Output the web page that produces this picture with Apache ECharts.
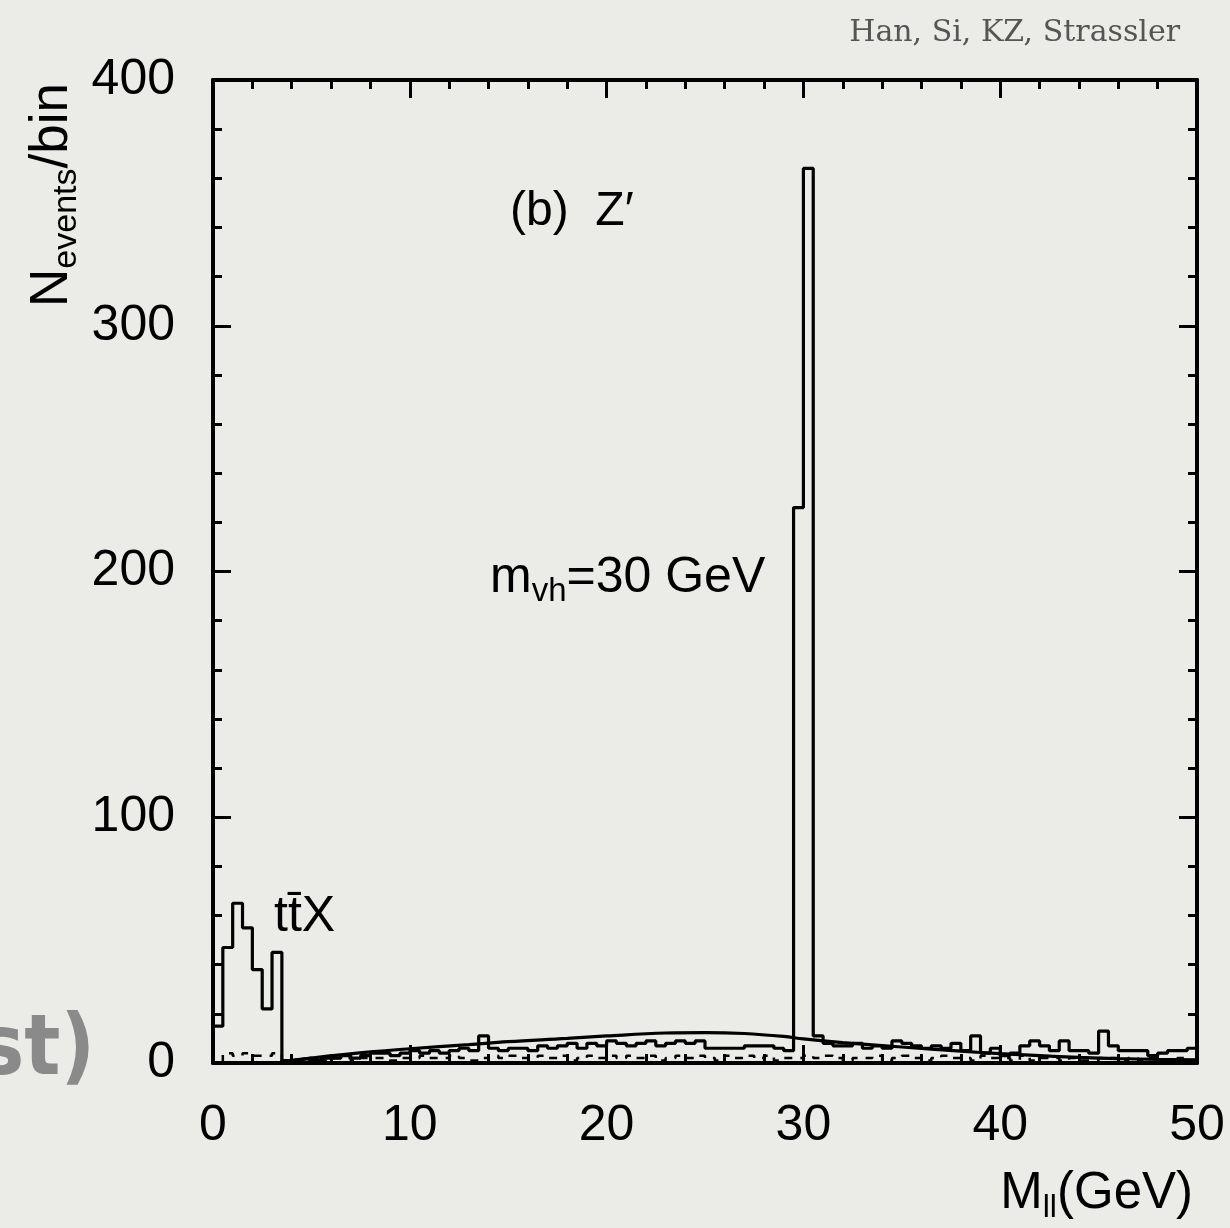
<!DOCTYPE html>
<html>
<head>
<meta charset="utf-8">
<script src="https://cdn.jsdelivr.net/npm/echarts@6/dist/echarts.min.js"></script>
<style>
    html, body { margin: 0; padding: 0; background: #ebebe7; }
    #chart { width: 1230px; height: 1228px; }
</style>
</head>
<body>
<div id="chart"></div>
<script>
// bin width in GeV
const binWidth = 0.5;

// ttX background, bins from 0 GeV
const ttxStart = 0;
const ttxValues = [15, 47, 65, 55, 38, 22, 45];

// Z' signal histogram, bins from 3.5 GeV
const signalStart = 3.5;
const signalValues = [
    1, 1.5, 2, 1, 2, 2, 3, 2, 3, 4, 4, 3, 4,
    5, 4, 5, 4, 5, 6, 5, 11, 6, 5, 6, 6, 5, 7, 6, 7, 8, 6, 8, 7,
    9, 8, 7, 8, 9, 7, 8, 9, 8, 9, 6, 6, 6, 6, 7, 7, 7, 6, 5, 226,
    364, 11, 8, 7, 7, 8, 6, 7, 6, 9, 8, 7, 6, 7, 6, 8, 5, 11, 4, 6,
    3, 4, 7, 9, 7, 5, 9, 5, 5, 4, 13, 7, 5, 5, 5, 3, 4, 5, 5, 6
];

// low dashed background, bins from 0.5 GeV
const dashStart = 0.5;
const dashValues = [
    4, 3, 4, 3, 3, 4,
    1, 1, 1, 2, 1, 2, 2, 1, 2, 2, 2, 1, 2,
    2, 3, 2, 2, 3, 2, 1, 2, 3, 2, 3, 2, 2, 3, 2, 3, 1, 2, 3, 2,
    3, 2, 3, 2, 3, 1, 2, 3, 2, 3, 2, 1, 3, 2, 3, 2, 3, 1, 2, 2,
    3, 2, 3, 2, 1, 2, 2, 3, 1, 2, 3, 2, 1, 2, 3, 2, 2, 1, 3, 2,
    2, 1, 3, 1, 2, 2, 1, 2, 1, 1, 2, 2, 1, 2, 1, 2, 1, 1, 2, 1
];

// smooth background curve
const curveX = [3.5, 5, 8, 10, 13, 15, 18, 20, 23, 25, 27, 29, 30, 32, 35, 38, 40, 42, 44, 46, 48, 50];
const curveY = [0.5, 2, 4.5, 5.8, 7.5, 8.7, 10, 11, 12.2, 12.4, 12, 10.8, 9.8, 8.3, 6.5, 4.8, 3.8, 3, 2.3, 1.8, 1.5, 1.3];

// axes
const xMin = 0, xMax = 50, xStep = 10;
const yMin = 0, yMax = 400, yStep = 100;

const histPoints = (start, values) => {
    const pts = [[start, 0]];
    values.forEach((v, i) => pts.push([start + i * binWidth, v]));
    pts.push([start + values.length * binWidth, 0]);
    return pts;
};

const txtFont = "'Liberation Sans', Arial, sans-serif";

const axisCommon = (showLabel) => ({
    axisLine: { show: true, onZero: false, lineStyle: { color: '#000', width: 4 } },
    axisTick: { show: true, inside: true, length: 18, lineStyle: { color: '#000', width: 3 } },
    minorTick: { show: true, splitNumber: 5, length: 9, lineStyle: { color: '#000', width: 3 } },
    splitLine: { show: false },
    axisLabel: {
        show: showLabel,
        color: '#000',
        fontSize: 50,
        fontFamily: txtFont,
        margin: 38
    }
});

const histSeries = (name, data, dashed) => ({
    name: name,
    type: 'line',
    step: 'end',
    data: data,
    showSymbol: false,
    symbol: 'none',
    silent: true,
    lineStyle: { color: '#000', width: dashed ? 2.5 : 3.2, type: dashed ? [8, 8] : 'solid' },
    z: 3
});

const getOptions = () => ({
    backgroundColor: '#ebebe7',
    animation: false,
    grid: { left: 213, right: 33, top: 80, bottom: 165, containLabel: false },
    xAxis: [
        Object.assign({ type: 'value', position: 'bottom', min: xMin, max: xMax, interval: xStep }, axisCommon(true)),
        Object.assign({ type: 'value', position: 'top', min: xMin, max: xMax, interval: xStep }, axisCommon(false))
    ],
    yAxis: [
        Object.assign({ type: 'value', position: 'left', min: yMin, max: yMax, interval: yStep }, axisCommon(true)),
        Object.assign({ type: 'value', position: 'right', min: yMin, max: yMax, interval: yStep }, axisCommon(false))
    ],
    series: [
        histSeries('dash', histPoints(dashStart, dashValues), true),
        histSeries('ttX', histPoints(ttxStart, ttxValues), false),
        histSeries('signal', histPoints(signalStart, signalValues), false),
        {
            name: 'curve',
            type: 'line',
            smooth: 0.4,
            data: curveX.map((x, i) => [x, curveY[i]]),
            showSymbol: false,
            symbol: 'none',
            silent: true,
            lineStyle: { color: '#000', width: 3.2 },
            z: 3
        }
    ],
    graphic: [
        {
            type: 'text', x: 1180, y: 33,
            style: {
                text: 'Han, Si, KZ, Strassler', fill: '#555',
                font: "30px 'DejaVu Serif', 'Liberation Serif', serif",
                textAlign: 'right', textVerticalAlign: 'middle'
            }
        },
        {
            type: 'text', x: 52, y: 195, rotation: Math.PI / 2,
            style: {
                text: '{m|N}{s|events}{m|/bin}',
                textAlign: 'center', textVerticalAlign: 'middle',
                rich: {
                    m: { fontSize: 53, fontFamily: txtFont, fill: '#000', lineHeight: 64 },
                    s: { fontSize: 34, fontFamily: txtFont, fill: '#000', lineHeight: 32, verticalAlign: 'bottom' }
                }
            }
        },
        {
            type: 'text', x: 1193, y: 1194,
            style: {
                text: '{m|M}{s|ll}{m|(GeV)}',
                textAlign: 'right', textVerticalAlign: 'middle',
                rich: {
                    m: { fontSize: 51, fontFamily: txtFont, fill: '#000', lineHeight: 60 },
                    s: { fontSize: 32, fontFamily: txtFont, fill: '#000', lineHeight: 30, verticalAlign: 'bottom' }
                }
            }
        },
        {
            type: 'text', x: 510, y: 212,
            style: {
                text: '(b)  Z\u2032', fill: '#000',
                font: '48px ' + txtFont,
                textAlign: 'left', textVerticalAlign: 'middle'
            }
        },
        {
            type: 'text', x: 490, y: 578,
            style: {
                text: '{m|m}{s|vh}{m|=30 GeV}',
                textAlign: 'left', textVerticalAlign: 'middle',
                rich: {
                    m: { fontSize: 50, fontFamily: txtFont, fill: '#000', lineHeight: 60 },
                    s: { fontSize: 33, fontFamily: txtFont, fill: '#000', lineHeight: 30, verticalAlign: 'bottom' }
                }
            }
        },
        {
            type: 'text', x: 274, y: 917,
            style: {
                text: 'tt\u0304X', fill: '#000',
                font: '50px ' + txtFont,
                textAlign: 'left', textVerticalAlign: 'middle'
            }
        },
        {
            type: 'text', x: 95, y: 1052,
            style: {
                text: 'st)', fill: '#8a8a8a',
                font: "bold 84px 'DejaVu Sans Condensed', 'DejaVu Sans', sans-serif",
                textAlign: 'right', textVerticalAlign: 'middle'
            }
        }
    ]
});

let chart;
const renderChart = () => {
    const el = document.getElementById('chart');
    chart = echarts.init(el, null, { renderer: 'canvas' });
    chart.setOption(getOptions());
};

renderChart();
</script>
</body>
</html>
